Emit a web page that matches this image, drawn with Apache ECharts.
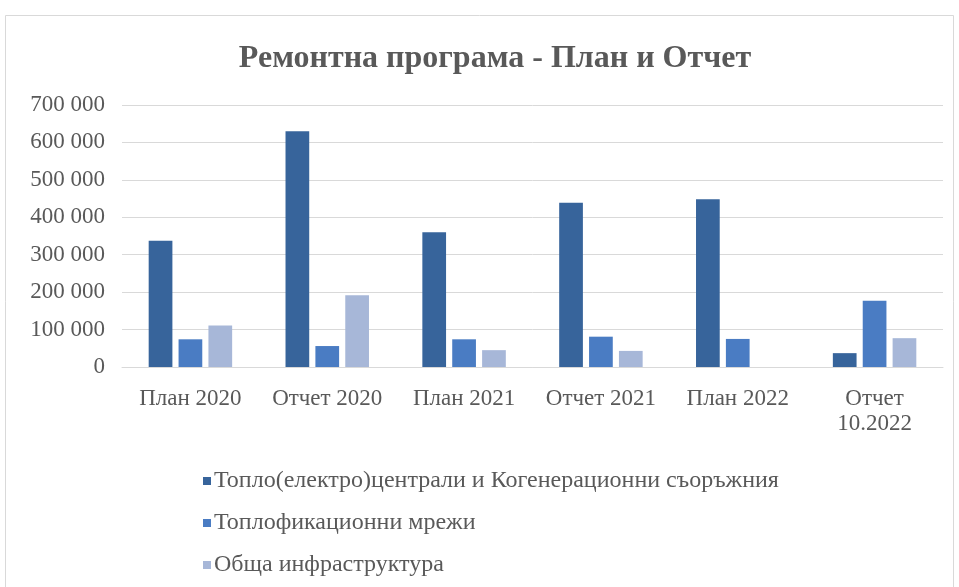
<!DOCTYPE html>
<html>
<head>
<meta charset="utf-8">
<script src="https://cdn.jsdelivr.net/npm/echarts@6/dist/echarts.min.js"></script>
<style>
html,body{margin:0;padding:0;background:#fff;}
#chart{width:959px;height:587px;}
</style>
</head>
<body>
<div id="chart"></div>
<script>
var categories = ['План 2020', 'Отчет 2020', 'План 2021', 'Отчет 2021', 'План 2022', 'Отчет\n10.2022'];
var seriesNames = ['Топло(електро)централи и Когенерационни съоръжния', 'Топлофикационни мрежи', 'Обща инфраструктура'];
var plantsValues = [337000, 630000, 360000, 439000, 448000, 37000];
var networkValues = [74000, 56000, 74000, 81000, 75000, 177000];
var infraValues = [111000, 192000, 45000, 43000, null, 77000];
var yTicks = { min: 0, max: 700000, interval: 100000 };
var colors = ['#37649b', '#4a7cc3', '#a7b7d8'];

var serif = '"Liberation Serif", "Times New Roman", serif';
var textColor = '#595959';

function fmt(v) {
  return String(v).replace(/\B(?=(\d{3})+(?!\d))/g, ' ');
}

var chart = echarts.init(document.getElementById('chart'));
chart.setOption({
  animation: false,
  backgroundColor: '#fff',
  graphic: [{
    type: 'rect',
    shape: { x: 5.5, y: 15.5, width: 948, height: 600 },
    style: { fill: 'none', stroke: '#d9d9d9', lineWidth: 1 },
    silent: true
  }],
  title: {
    text: 'Ремонтна програма - План и Отчет',
    left: 490,
    textAlign: 'center',
    top: 38,
    textStyle: { fontFamily: serif, fontSize: 32, fontWeight: 'bold', color: textColor }
  },
  grid: { left: 122, right: 16, top: 105, bottom: 220, containLabel: false },
  xAxis: {
    type: 'category',
    data: categories,
    axisLine: { lineStyle: { color: '#d9d9d9' } },
    axisTick: { show: false },
    axisLabel: { fontFamily: serif, fontSize: 23, color: textColor, margin: 19, lineHeight: 25, interval: 0 }
  },
  yAxis: {
    type: 'value',
    min: yTicks.min,
    max: yTicks.max,
    interval: yTicks.interval,
    axisLine: { show: false },
    axisTick: { show: false },
    splitLine: { lineStyle: { color: '#d9d9d9' } },
    axisLabel: { fontFamily: serif, fontSize: 23, color: textColor, margin: 17, formatter: fmt }
  },
  legend: {
    orient: 'vertical',
    left: 198,
    top: 464,
    itemGap: 18,
    itemWidth: 8,
    itemHeight: 8,
    icon: 'rect',
    textStyle: { fontFamily: serif, fontSize: 24, color: textColor, padding: [0, 0, 0, -2] },
    data: seriesNames
  },
  series: [
    { name: seriesNames[0], type: 'bar', data: plantsValues, itemStyle: { color: colors[0] }, barGap: '26%', barCategoryGap: '39%' },
    { name: seriesNames[1], type: 'bar', data: networkValues, itemStyle: { color: colors[1] }, barGap: '26%', barCategoryGap: '39%' },
    { name: seriesNames[2], type: 'bar', data: infraValues, itemStyle: { color: colors[2] }, barGap: '26%', barCategoryGap: '39%' }
  ]
});
</script>
</body>
</html>
